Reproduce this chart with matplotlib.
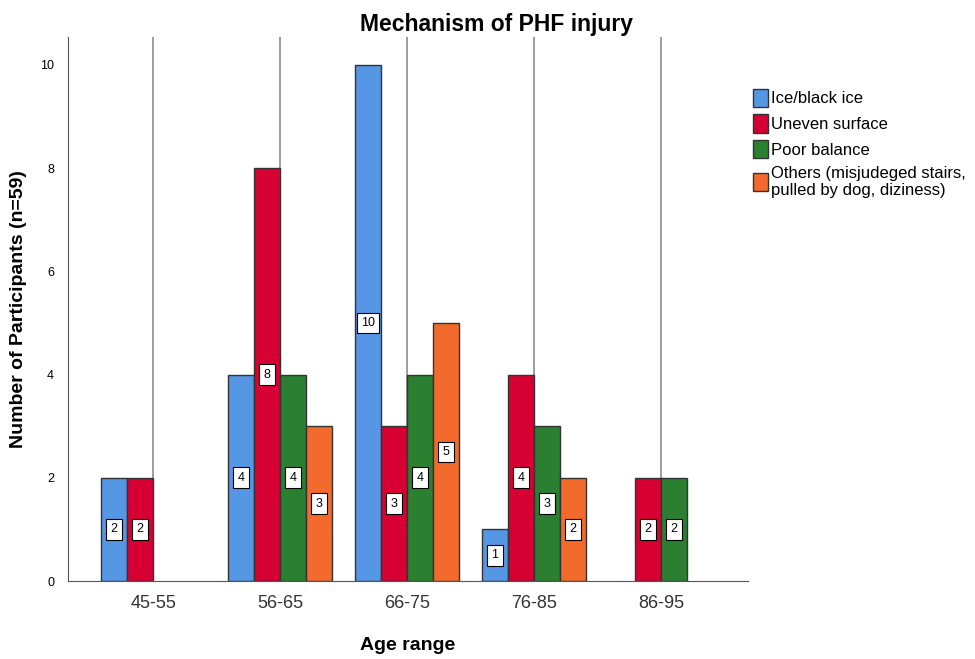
import numpy as np
import matplotlib.pyplot as plt

plt.rcParams['font.family'] = ['Liberation Sans', 'DejaVu Sans']

grupos = ['45-55', '56-65', '66-75', '76-85', '86-95']
series = ['Ice/black ice', 'Uneven surface', 'Poor balance',
          'Others (misjudeged stairs,\npulled by dog, diziness)']
hielo = [2, 4, 10, 1, 0]
irregular = [2, 8, 3, 4, 2]
equilibrio = [0, 4, 4, 3, 2]
otros = [0, 3, 5, 2, 0]
colores = ['#5596E5', '#D70033', '#2A8030', '#F26B2C']

valores = [hielo, irregular, equilibrio, otros]

fig = plt.figure(figsize=(9.75, 6.59), dpi=100)
ax = fig.add_axes([68/975, 78/659, 680/975, 544/659])

x = np.arange(len(grupos))
ancho = 0.205
for xi in x:
    ax.axvline(xi, color='#8c8c8c', lw=1.2, zorder=1)

handles = []
for i, (vals, col) in enumerate(zip(valores, colores)):
    pos = x + (i - 1.5) * ancho
    for p, v in zip(pos, vals):
        if v == 0:
            continue
        ax.bar(p, v, width=ancho * 0.97, color=col, edgecolor='#333333', lw=1, zorder=2)
        ax.text(p, v / 2, str(v), ha='center', va='center', fontsize=9, zorder=3,
                bbox=dict(boxstyle='square,pad=0.35', fc='white', ec='black', lw=0.8))
    handles.append(plt.Rectangle((0, 0), 1, 1, fc=col, ec='#333333', lw=1))

ax.set_xlim(-0.67, 4.685)
ax.set_ylim(0, 10.54)
ax.set_xticks(x)
ax.set_xticklabels(grupos, fontsize=13, color='#333333')
ax.set_yticks([0, 2, 4, 6, 8, 10])
ax.tick_params(axis='y', labelsize=9, length=0, pad=10)
ax.tick_params(axis='x', length=0, pad=10)
for s in ['top', 'right']:
    ax.spines[s].set_visible(False)
for s in ['left', 'bottom']:
    ax.spines[s].set_color('#555555')

fig.text(19/975, 1 - 309/659, 'Number of Participants (n=59)', rotation=90,
         ha='center', va='center', fontsize=14, fontweight='bold')
ax.set_xlabel('Age range', fontsize=14, fontweight='bold', labelpad=18)
fig.text(496/975, 1 - 24/659, 'Mechanism of PHF injury', ha='center', va='center',
         fontsize=16.5, fontweight='bold')

fig.legend(handles, series, loc='upper left', bbox_to_anchor=(746/975, 1 - 82/659),
           frameon=False, fontsize=12, handlelength=0.9, handleheight=1.3,
           handletextpad=0.2, labelspacing=0.45, borderaxespad=0)

fig.savefig('out.png', dpi=100)
